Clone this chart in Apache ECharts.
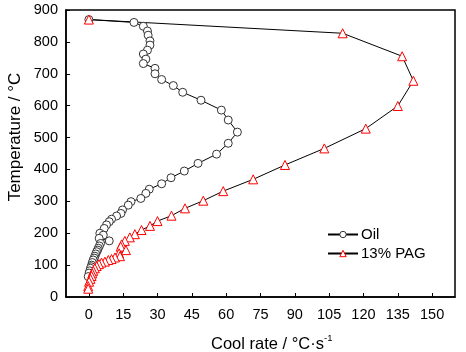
<!DOCTYPE html>
<html><head><meta charset="utf-8">
<script src="https://cdn.jsdelivr.net/npm/echarts@6/dist/echarts.min.js"></script>
<style>html,body{margin:0;padding:0;background:#fff}#c{width:466px;height:352px}</style>
</head><body><div id="c"></div>
<script>
var xTicks = [0, 15, 30, 45, 60, 75, 90, 105, 120, 135, 150];
var xTitle = 'Cool rate / °C·s';
var xTitleSup = '-1';
var yTitle = 'Temperature / °C';
var oilRate = [0, 19.7, 23.8, 25.6, 25.9, 26.7, 26.7, 25.6, 23.8, 24.9, 23.8, 28.9, 28.9, 31.8, 36.9, 41, 49, 57.9, 60.9, 64.9, 60.9, 55.8, 47.7, 41.7, 35.9, 31.8, 26.4, 24.9, 22.7, 18.4, 17.2, 14.7, 14, 12.1, 9.9, 8.9, 7.7, 6.7, 4.8, 6.3, 4.5, 8.9, 5.1, 4.6, 4.1, 3.8, 3.4, 3.0, 2.6, 2.3, 1.9, 1.5, 1.2, 1.0, 0.7, 0.4, 0.1, -0.3];
var oilTemp = [870, 861, 849, 834, 821, 803, 790, 774, 762, 746, 732, 717, 700, 682, 663, 642, 617, 586, 555, 517, 482, 448, 419, 395, 374, 355, 338, 325, 309, 299, 288, 273, 262, 254, 244, 236, 226, 215, 200, 194, 184, 176, 168, 160, 153, 147, 142, 135, 128, 122, 116, 108, 100, 95, 90, 82, 75, 64];
var pagRate = [0, 110.9, 136.9, 141.8, 135, 121, 102.9, 85.7, 71.8, 58.7, 50, 42, 36.1, 30, 26.7, 23, 20.1, 17.9, 15.7, 14.3, 13.9, 16.2, 13.2, 13.6, 11.4, 9.9, 8.5, 7.0, 5.5, 4.4, 3.4, 2.6, 1.9, 1.5, 1.2, 0.7, 0.1, -0.3, -0.3];
var pagTemp = [870, 827, 755, 678, 599, 528, 466, 414, 369, 332, 302, 278, 255, 238, 223, 210, 197, 187, 176, 165, 158, 147, 137, 128, 124, 119, 116, 111, 108, 103, 97, 90, 82, 74, 66, 57, 48, 34, 26];

function pairs(xs, ys){ return xs.map(function(v,i){ return [v, ys[i]]; }); }
var font = 'Liberation Sans, Arial, sans-serif';
var chart = echarts.init(document.getElementById('c'), null, {renderer:'canvas'});
chart.setOption({
  animation: false,
  textStyle: {fontFamily: font},
  grid: {left: 66, right: 11, top: 10, bottom: 55, show: true, borderColor: '#000', borderWidth: 1.5, backgroundColor: 'transparent'},
  legend: {
    orient: 'vertical', left: 322, top: 222, itemWidth: 30, itemHeight: 8, itemGap: 4,
    textStyle: {fontSize: 15, color: '#000', fontFamily: font, padding: [0,0,0,-2]},
    data: [
      {name: 'Oil', itemStyle: {color: '#fff', borderColor: '#333', borderWidth: 1}},
      {name: '13% PAG', itemStyle: {color: '#fff', borderColor: '#ff0000', borderWidth: 1}}
    ]
  },
  graphic: [
    {type: 'text', left: 211, top: 333, style: {
      text: '{m|' + xTitle + '}{s|' + xTitleSup + '}',
      rich: {m: {fontSize: 16.5, fontFamily: font, fill: '#000'}, s: {fontSize: 9.5, fontFamily: font, fill: '#000', verticalAlign: 'top', padding: [0,0,12,0]}}
    }},
    {type: 'text', x: 15, y: 137, rotation: Math.PI/2, style: {
      text: yTitle, fontSize: 17, fontFamily: font, fill: '#000', align: 'center', verticalAlign: 'middle'
    }}
  ],
  xAxis: {
    type: 'value', min: -10, max: 160,
    axisLine: {show: true, onZero: false, lineStyle: {color: '#000', width: 1.5}},
    axisTick: {show: true, inside: true, length: 4, customValues: xTicks, lineStyle: {color: '#000'}},
    axisLabel: {customValues: xTicks, fontSize: 14.5, color: '#000', margin: 10, fontFamily: font},
    splitLine: {show: false}
  },
  yAxis: {
    type: 'value', min: 0, max: 900, interval: 100,
    axisLine: {show: true, onZero: false, lineStyle: {color: '#000', width: 1.5}},
    axisTick: {show: true, inside: true, length: 4, lineStyle: {color: '#000'}},
    axisLabel: {fontSize: 14.5, color: '#000', margin: 8, fontFamily: font},
    splitLine: {show: false}
  },
  series: [
    {name: 'Oil', type: 'line', data: pairs(oilRate, oilTemp), symbol: 'circle', symbolSize: 8,
     showAllSymbol: true, lineStyle: {color: '#000', width: 1},
     itemStyle: {color: '#fff', borderColor: '#333', borderWidth: 1}},
    {name: '13% PAG', type: 'line', data: pairs(pagRate, pagTemp), symbol: 'triangle', symbolSize: 9,
     showAllSymbol: true, lineStyle: {color: '#000', width: 1},
     itemStyle: {color: '#fff', borderColor: '#ff0000', borderWidth: 1}}
  ]
});
</script></body></html>
